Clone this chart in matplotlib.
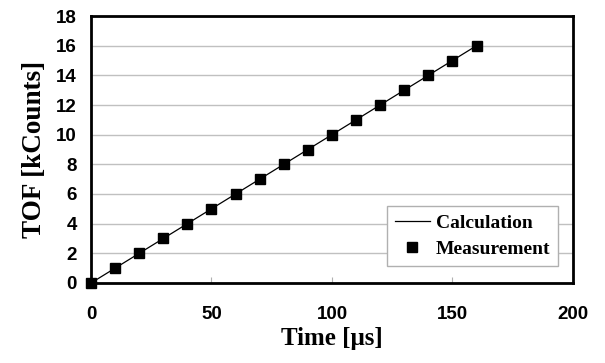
import numpy as np
import matplotlib
matplotlib.use("Agg")
from matplotlib import pyplot as plt

# data
calc_t = [0, 160]
calc_tof = [0, 16]
meas_t = [0, 10, 20, 30, 40, 50, 60, 70, 80, 90, 100, 110, 120, 130, 140, 150, 160]
meas_tof = [0, 1, 2, 3, 4, 5, 6, 7, 8, 9, 10, 11, 12, 13, 14, 15, 16]
xticks = [0, 50, 100, 150, 200]
yticks = [0, 2, 4, 6, 8, 10, 12, 14, 16, 18]

fig = plt.figure(figsize=(6.05, 3.63), dpi=100)
ax = fig.add_axes([0.1504, 0.2204, 0.7966, 0.7355])

ax.plot(calc_t, calc_tof, color='black', lw=0.9, label='Calculation', zorder=3)
ax.plot(meas_t, meas_tof, ls='none', marker='s', ms=6.5, color='black',
        label='Measurement', zorder=4, clip_on=False)

ax.set_xlim(0, 200)
ax.set_ylim(0, 18)
ax.set_xticks(xticks)
ax.set_yticks(yticks)
ax.yaxis.grid(True, color='#c0c0c0', lw=1)
ax.set_axisbelow(True)

for s in ax.spines.values():
    s.set_linewidth(2)
ax.tick_params(axis='x', direction='in', length=4, width=0.8, color='#b0b0b0', pad=16.5)
ax.tick_params(axis='y', length=0, pad=10)
for lab in ax.get_xticklabels() + ax.get_yticklabels():
    lab.set_fontfamily('Liberation Sans')
    lab.set_fontweight('bold')
    lab.set_fontsize(13.5)

ax.set_xlabel('Time [μs]', fontfamily='Liberation Serif', fontweight='bold', fontsize=18, labelpad=3)
ax.set_ylabel('TOF [kCounts]', fontfamily='Liberation Serif', fontweight='bold', fontsize=19.5, labelpad=7)

leg = ax.legend(loc='lower right', bbox_to_anchor=(0.969, 0.064), borderaxespad=0,
                fancybox=False,
                prop={'family': 'Liberation Serif', 'weight': 'bold', 'size': 14},
                handlelength=1.8, handletextpad=0.3, borderpad=0.4, labelspacing=0.45,
                framealpha=1)
leg.get_frame().set_edgecolor('#b0b0b0')
leg.get_frame().set_linewidth(1)

fig.savefig('out.png', dpi=100)
